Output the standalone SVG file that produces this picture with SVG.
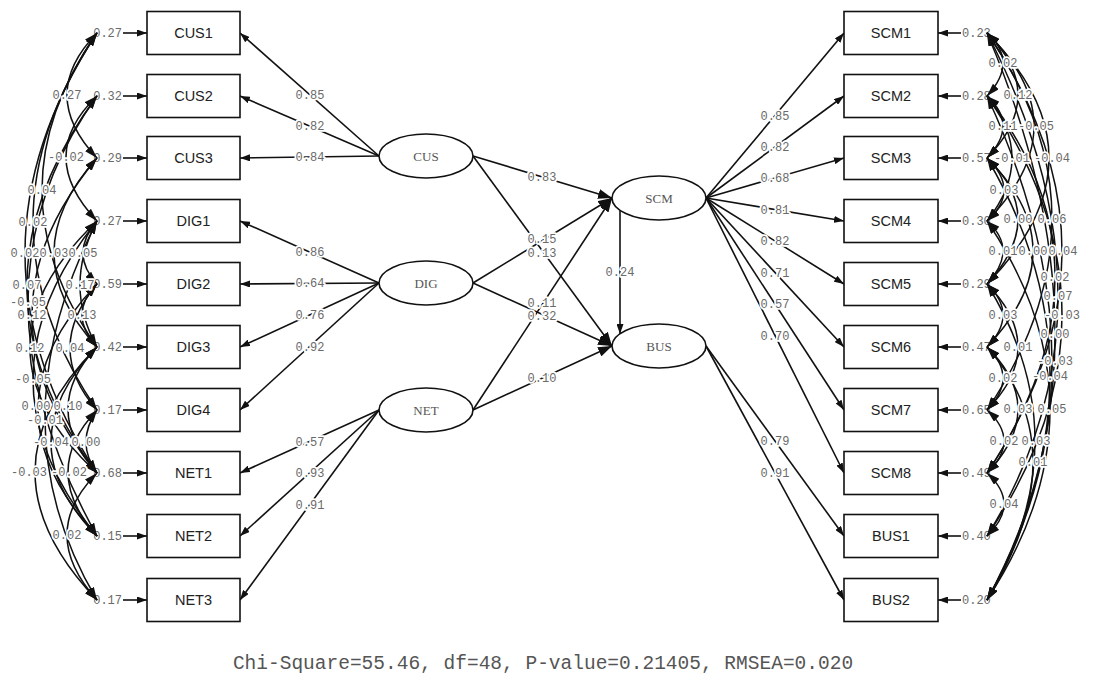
<svg xmlns="http://www.w3.org/2000/svg" width="1095" height="682" viewBox="0 0 1095 682">
<style>
.box{fill:#fff;stroke:#111;stroke-width:1.6}
.lat{fill:#fff;stroke:#111;stroke-width:1.6}
.obs{font-family:"Liberation Sans",Arial,sans-serif;font-size:14.5px;fill:#222;text-anchor:middle}
.ltx{font-family:"Liberation Serif","Times New Roman",serif;font-size:13px;fill:#555;text-anchor:middle}
.ln{stroke:#111;stroke-width:1.6;fill:none}
.cv{stroke:#111;stroke-width:1.5;fill:none}
.cf{font-family:"Liberation Mono","Courier New",monospace;font-size:12px;fill:#6a6a6a;text-anchor:middle;stroke:#fff;stroke-width:3.5;paint-order:stroke;stroke-linejoin:round}
.ev{font-family:"Liberation Mono","Courier New",monospace;font-size:12px;fill:#6a6a6a}
.ft{font-family:"Liberation Mono","Courier New",monospace;font-size:19.5px;fill:#555;text-anchor:middle}
</style>
<defs>
<marker id="am" viewBox="0 0 10 7" refX="10" refY="3.5" markerWidth="10" markerHeight="7" orient="auto" markerUnits="userSpaceOnUse"><path d="M0,0L10,3.5L0,7z" fill="#111"/></marker>
<marker id="as" viewBox="0 0 14 10" refX="14" refY="5" markerWidth="14" markerHeight="10" orient="auto" markerUnits="userSpaceOnUse"><path d="M0,0L14,5L0,10z" fill="#111"/></marker>
<marker id="ac" viewBox="0 0 13 8" refX="13" refY="4" markerWidth="13" markerHeight="8" orient="auto-start-reverse" markerUnits="userSpaceOnUse"><path d="M0,0L13,4L0,8z" fill="#111"/></marker>
</defs>
<rect width="1095" height="682" fill="#fff"/>

<g id="connectors">
 <g marker-end="url(#am)" class="ln">
  <line x1="379" y1="156" x2="240" y2="33"/>
  <line x1="379" y1="156" x2="240" y2="96"/>
  <line x1="379" y1="156" x2="240" y2="158"/>
  <line x1="379" y1="283" x2="240" y2="221"/>
  <line x1="379" y1="283" x2="240" y2="284"/>
  <line x1="379" y1="283" x2="240" y2="347"/>
  <line x1="379" y1="283" x2="240" y2="410"/>
  <line x1="379" y1="410" x2="240" y2="473"/>
  <line x1="379" y1="410" x2="240" y2="536"/>
  <line x1="379" y1="410" x2="240" y2="600"/>
  <line x1="706" y1="198" x2="844" y2="33"/>
  <line x1="706" y1="198" x2="844" y2="96"/>
  <line x1="706" y1="198" x2="844" y2="158"/>
  <line x1="706" y1="198" x2="844" y2="221"/>
  <line x1="706" y1="198" x2="844" y2="284"/>
  <line x1="706" y1="198" x2="844" y2="347"/>
  <line x1="706" y1="198" x2="844" y2="410"/>
  <line x1="706" y1="198" x2="844" y2="473"/>
  <line x1="706" y1="346" x2="844" y2="536"/>
  <line x1="706" y1="346" x2="844" y2="600"/>
  <line x1="123" y1="33" x2="147" y2="33"/>
  <line x1="123" y1="96" x2="147" y2="96"/>
  <line x1="123" y1="158" x2="147" y2="158"/>
  <line x1="123" y1="221" x2="147" y2="221"/>
  <line x1="123" y1="284" x2="147" y2="284"/>
  <line x1="123" y1="347" x2="147" y2="347"/>
  <line x1="123" y1="410" x2="147" y2="410"/>
  <line x1="123" y1="473" x2="147" y2="473"/>
  <line x1="123" y1="536" x2="147" y2="536"/>
  <line x1="123" y1="600" x2="147" y2="600"/>
  <line x1="961" y1="33" x2="938" y2="33"/>
  <line x1="961" y1="96" x2="938" y2="96"/>
  <line x1="961" y1="158" x2="938" y2="158"/>
  <line x1="961" y1="221" x2="938" y2="221"/>
  <line x1="961" y1="284" x2="938" y2="284"/>
  <line x1="961" y1="347" x2="938" y2="347"/>
  <line x1="961" y1="410" x2="938" y2="410"/>
  <line x1="961" y1="473" x2="938" y2="473"/>
  <line x1="961" y1="536" x2="938" y2="536"/>
  <line x1="961" y1="600" x2="938" y2="600"/>
 </g>
 <g marker-end="url(#as)" class="ln">
  <line x1="473" y1="156" x2="612" y2="198"/>
  <line x1="473" y1="156" x2="612" y2="346"/>
  <line x1="473" y1="283" x2="612" y2="198"/>
  <line x1="473" y1="283" x2="612" y2="346"/>
  <line x1="473" y1="410" x2="612" y2="198"/>
  <line x1="473" y1="410" x2="612" y2="346"/>
 </g>
 <line class="ln" x1="620" y1="211" x2="620" y2="334" marker-end="url(#am)"/>
</g>

<g id="coefficients">
 <text class="cf" x="310" y="98.5">0.85</text>
 <text class="cf" x="310" y="130">0.82</text>
 <text class="cf" x="310" y="161">0.84</text>
 <text class="cf" x="310" y="256">0.86</text>
 <text class="cf" x="310" y="287">0.64</text>
 <text class="cf" x="310" y="319">0.76</text>
 <text class="cf" x="310" y="350.5">0.92</text>
 <text class="cf" x="310" y="445.5">0.57</text>
 <text class="cf" x="310" y="477">0.93</text>
 <text class="cf" x="310" y="509">0.91</text>
 <text class="cf" x="775" y="119.5">0.85</text>
 <text class="cf" x="775" y="151">0.82</text>
 <text class="cf" x="775" y="182">0.68</text>
 <text class="cf" x="775" y="213.5">0.81</text>
 <text class="cf" x="775" y="245">0.82</text>
 <text class="cf" x="775" y="276.5">0.71</text>
 <text class="cf" x="775" y="308">0.57</text>
 <text class="cf" x="775" y="339.5">0.70</text>
 <text class="cf" x="775" y="445">0.79</text>
 <text class="cf" x="775" y="477">0.91</text>
 <text class="cf" x="542" y="181">0.83</text>
 <text class="cf" x="542" y="243">0.15</text>
 <text class="cf" x="542" y="257">0.13</text>
 <text class="cf" x="542" y="307">0.11</text>
 <text class="cf" x="542" y="320">0.32</text>
 <text class="cf" x="542" y="382">0.10</text>
 <text class="cf" x="620" y="276">0.24</text>
</g>

<g id="error-variances">
 <g class="ev" text-anchor="end">
  <text x="122" y="37">0.27</text>
  <text x="122" y="100">0.32</text>
  <text x="122" y="162">0.29</text>
  <text x="122" y="225">0.27</text>
  <text x="122" y="288">0.59</text>
  <text x="122" y="351">0.42</text>
  <text x="122" y="414">0.17</text>
  <text x="122" y="477">0.68</text>
  <text x="122" y="540">0.15</text>
  <text x="122" y="604">0.17</text>
 </g>
 <g class="ev">
  <text x="962" y="37">0.23</text>
  <text x="962" y="100">0.28</text>
  <text x="962" y="162">0.57</text>
  <text x="962" y="225">0.30</text>
  <text x="962" y="288">0.29</text>
  <text x="962" y="351">0.47</text>
  <text x="962" y="414">0.65</text>
  <text x="962" y="477">0.49</text>
  <text x="962" y="540">0.40</text>
  <text x="962" y="604">0.20</text>
 </g>
</g>

<g id="covariances">
 <g class="cv" marker-start="url(#ac)" marker-end="url(#ac)">
  <path d="M97,33 Q37,94.5 97,158"/>
  <path d="M97,96 Q35,155.5 97,221"/>
  <path d="M97,33 Q-13,190 97,347"/>
  <path d="M97,33 Q-31,222.5 97,410"/>
  <path d="M97,33 Q-47,253 97,473"/>
  <path d="M97,158 Q11,253.5 97,347"/>
  <path d="M97,221 Q69,253.5 97,284"/>
  <path d="M97,96 Q-43,285.5 97,473"/>
  <path d="M97,221 Q63,286 97,347"/>
  <path d="M97,96 Q-41,288 97,536"/>
  <path d="M97,158 Q-33,314.5 97,473"/>
  <path d="M97,284 Q67,314.5 97,347"/>
  <path d="M97,221 Q-37,349 97,473"/>
  <path d="M97,284 Q43,349 97,410"/>
  <path d="M97,221 Q-31,379.5 97,536"/>
  <path d="M97,284 Q-21,408 97,536"/>
  <path d="M97,347 Q39,408 97,473"/>
  <path d="M97,221 Q-7,425.5 97,600"/>
  <path d="M97,347 Q5,442.5 97,536"/>
  <path d="M97,410 Q75,442.5 97,473"/>
  <path d="M97,347 Q-27,470.5 97,600"/>
  <path d="M97,410 Q39,471 97,536"/>
  <path d="M97,473 Q37,533.5 97,600"/>

  <path d="M987,33 Q1019,61.5 987,96"/>
  <path d="M987,33 Q1049,94.5 987,158"/>
  <path d="M987,96 Q1019,125 987,158"/>
  <path d="M987,33 Q1081,125 987,221"/>
  <path d="M987,96 Q1037,157.5 987,221"/>
  <path d="M987,33 Q1111,157.5 987,284"/>
  <path d="M987,158 Q1021,190.5 987,221"/>
  <path d="M987,158 Q1049,217 987,284"/>
  <path d="M987,33 Q1117,216.5 987,410"/>
  <path d="M987,221 Q1019,249.5 987,284"/>
  <path d="M987,158 Q1079,249.5 987,347"/>
  <path d="M987,33 Q1137,249 987,473"/>
  <path d="M987,96 Q1123,269.5 987,473"/>
  <path d="M987,33 Q1129,307.5 987,536"/>
  <path d="M987,284 Q1019,314.5 987,347"/>
  <path d="M987,96 Q1137,314 987,536"/>
  <path d="M987,33 Q1123,351.5 987,600"/>
  <path d="M987,284 Q1049,347 987,410"/>
  <path d="M987,96 Q1117,376 987,600"/>
  <path d="M987,158 Q1113,372 987,600"/>
  <path d="M987,347 Q1019,377.5 987,410"/>
  <path d="M987,347 Q1049,408 987,473"/>
  <path d="M987,221 Q1113,407.5 987,600"/>
  <path d="M987,410 Q1021,440.5 987,473"/>
  <path d="M987,284 Q1083,440 987,600"/>
  <path d="M987,347 Q1079,450.5 987,600"/>
  <path d="M987,473 Q1021,503.5 987,536"/>
 </g>
 <g class="cf">
  <text x="67" y="99">0.27</text>
  <text x="66" y="161">-0.02</text>
  <text x="42" y="194">0.04</text>
  <text x="33" y="226">0.02</text>
  <text x="25" y="257">0.02</text>
  <text x="54" y="257">0.03</text>
  <text x="83" y="257">0.05</text>
  <text x="27" y="289">0.07</text>
  <text x="80" y="289">0.17</text>
  <text x="28" y="306">-0.05</text>
  <text x="32" y="319">0.12</text>
  <text x="82" y="319">0.13</text>
  <text x="30" y="352">0.12</text>
  <text x="70" y="352">0.04</text>
  <text x="33" y="383">-0.05</text>
  <text x="36" y="410">0.00</text>
  <text x="68" y="410">0.10</text>
  <text x="45" y="424">-0.01</text>
  <text x="51" y="446">-0.04</text>
  <text x="86" y="446">0.00</text>
  <text x="29" y="476">-0.03</text>
  <text x="69" y="476">-0.02</text>
  <text x="67" y="539">0.02</text>

  <text x="1003" y="67">0.02</text>
  <text x="1018" y="99">0.12</text>
  <text x="1003" y="130">0.11</text>
  <text x="1036" y="130">-0.05</text>
  <text x="1012" y="162">-0.01</text>
  <text x="1052" y="162">-0.04</text>
  <text x="1004" y="194">0.03</text>
  <text x="1018" y="223">0.00</text>
  <text x="1052" y="223">0.06</text>
  <text x="1003" y="255">0.01</text>
  <text x="1033" y="255">0.00</text>
  <text x="1063" y="255">0.04</text>
  <text x="1055" y="281">0.02</text>
  <text x="1058" y="300">0.07</text>
  <text x="1003" y="319">0.03</text>
  <text x="1062" y="319">-0.03</text>
  <text x="1055" y="338">0.00</text>
  <text x="1018" y="351">0.01</text>
  <text x="1055" y="365">-0.03</text>
  <text x="1050" y="380">-0.04</text>
  <text x="1003" y="382">0.02</text>
  <text x="1018" y="413">0.03</text>
  <text x="1052" y="413">0.05</text>
  <text x="1004" y="445">0.02</text>
  <text x="1036" y="445">0.03</text>
  <text x="1033" y="466">0.01</text>
  <text x="1004" y="508">0.04</text>
 </g>
</g>

<g id="CUS1"><rect class="box" x="147" y="11.5" width="93" height="43"/><text class="obs" x="193.5" y="38">CUS1</text></g>
<g id="CUS2"><rect class="box" x="147" y="74.5" width="93" height="43"/><text class="obs" x="193.5" y="101">CUS2</text></g>
<g id="CUS3"><rect class="box" x="147" y="136.5" width="93" height="43"/><text class="obs" x="193.5" y="163">CUS3</text></g>
<g id="DIG1"><rect class="box" x="147" y="199.5" width="93" height="43"/><text class="obs" x="193.5" y="226">DIG1</text></g>
<g id="DIG2"><rect class="box" x="147" y="262.5" width="93" height="43"/><text class="obs" x="193.5" y="289">DIG2</text></g>
<g id="DIG3"><rect class="box" x="147" y="325.5" width="93" height="43"/><text class="obs" x="193.5" y="352">DIG3</text></g>
<g id="DIG4"><rect class="box" x="147" y="388.5" width="93" height="43"/><text class="obs" x="193.5" y="415">DIG4</text></g>
<g id="NET1"><rect class="box" x="147" y="451.5" width="93" height="43"/><text class="obs" x="193.5" y="478">NET1</text></g>
<g id="NET2"><rect class="box" x="147" y="514.5" width="93" height="43"/><text class="obs" x="193.5" y="541">NET2</text></g>
<g id="NET3"><rect class="box" x="147" y="578.5" width="93" height="43"/><text class="obs" x="193.5" y="605">NET3</text></g>

<g id="SCM1"><rect class="box" x="844" y="11.5" width="94" height="43"/><text class="obs" x="891" y="38">SCM1</text></g>
<g id="SCM2"><rect class="box" x="844" y="74.5" width="94" height="43"/><text class="obs" x="891" y="101">SCM2</text></g>
<g id="SCM3"><rect class="box" x="844" y="136.5" width="94" height="43"/><text class="obs" x="891" y="163">SCM3</text></g>
<g id="SCM4"><rect class="box" x="844" y="199.5" width="94" height="43"/><text class="obs" x="891" y="226">SCM4</text></g>
<g id="SCM5"><rect class="box" x="844" y="262.5" width="94" height="43"/><text class="obs" x="891" y="289">SCM5</text></g>
<g id="SCM6"><rect class="box" x="844" y="325.5" width="94" height="43"/><text class="obs" x="891" y="352">SCM6</text></g>
<g id="SCM7"><rect class="box" x="844" y="388.5" width="94" height="43"/><text class="obs" x="891" y="415">SCM7</text></g>
<g id="SCM8"><rect class="box" x="844" y="451.5" width="94" height="43"/><text class="obs" x="891" y="478">SCM8</text></g>
<g id="BUS1"><rect class="box" x="844" y="514.5" width="94" height="43"/><text class="obs" x="891" y="541">BUS1</text></g>
<g id="BUS2"><rect class="box" x="844" y="578.5" width="94" height="43"/><text class="obs" x="891" y="605">BUS2</text></g>

<g id="CUS"><ellipse class="lat" cx="426" cy="156" rx="47" ry="22"/><text class="ltx" x="426" y="160.5">CUS</text></g>
<g id="DIG"><ellipse class="lat" cx="426" cy="283" rx="47" ry="22"/><text class="ltx" x="426" y="287.5">DIG</text></g>
<g id="NET"><ellipse class="lat" cx="426" cy="410" rx="47" ry="22"/><text class="ltx" x="426" y="414.5">NET</text></g>
<g id="SCM"><ellipse class="lat" cx="659" cy="198" rx="47" ry="22"/><text class="ltx" x="659" y="202.5">SCM</text></g>
<g id="BUS"><ellipse class="lat" cx="659" cy="346" rx="47" ry="22"/><text class="ltx" x="659" y="350.5">BUS</text></g>

<text class="ft" x="543" y="669">Chi-Square=55.46, df=48, P-value=0.21405, RMSEA=0.020</text>
</svg>
